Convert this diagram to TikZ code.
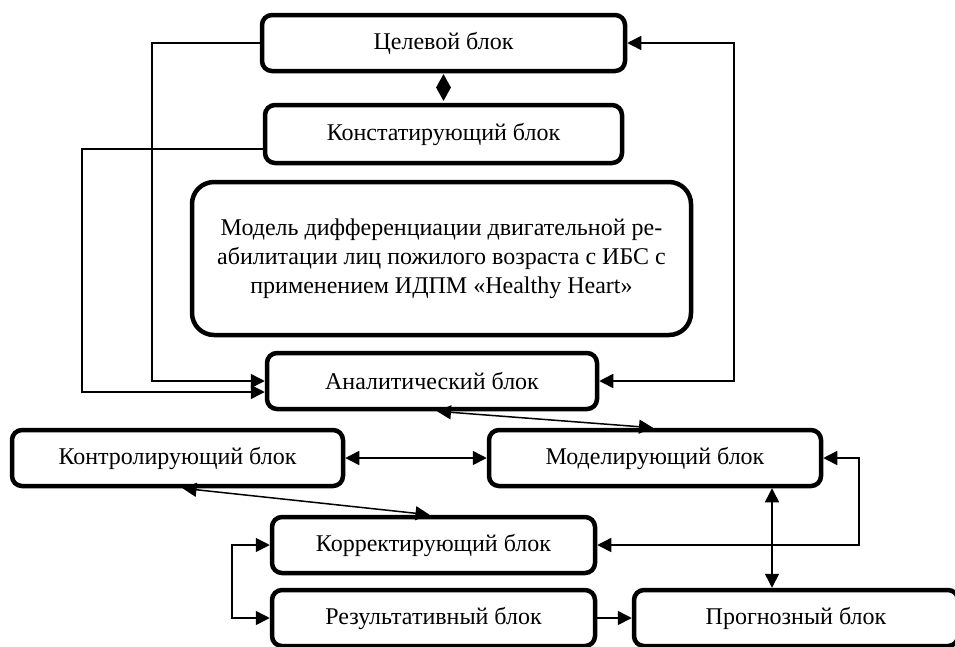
\documentclass[tikz,border=0pt]{standalone}
\usepackage{fontspec}
\setmainfont{Liberation Serif}
\usetikzlibrary{arrows.meta,shapes.geometric,calc}
\begin{document}
\begin{tikzpicture}[x=1pt,y=-1pt,
  blk/.style={draw, line width=4.5pt, rounded corners=10pt, inner sep=0pt,
    font=\fontsize{24}{29}\selectfont, align=center},
  conn/.style={line width=1.5pt},
  >={Triangle[length=14pt,width=14pt]}]
\useasboundingbox (0,0) rectangle (955,646);
\clip (0,0) rectangle (955,646);
\node[blk, minimum width=363, minimum height=56] (cel) at (443.5,43) {Целевой блок};
\node[blk, minimum width=357, minimum height=58] (kon) at (443.5,134) {Констатирующий блок};
\node[blk, rounded corners=22pt, minimum width=499, minimum height=153] (mdl) at (441.5,258.5)
  {Модель дифференциации двигательной ре-\\абилитации лиц пожилого возраста с ИБС с\\применением ИДПМ «Healthy Heart»};
\node[blk, minimum width=330, minimum height=56] (anl) at (432,381) {Аналитический блок};
\node[blk, minimum width=331, minimum height=56] (ktr) at (177.5,458) {Контролирующий блок};
\node[blk, minimum width=332, minimum height=56] (mod) at (655,458) {Моделирующий блок};
\node[blk, minimum width=323, minimum height=56] (kor) at (433.5,545) {Корректирующий блок};
\node[blk, minimum width=323, minimum height=56] (res) at (433.5,618) {Результативный блок};
\node[blk, minimum width=324, minimum height=56] (prg) at (796,618) {Прогнозный блок};
\node[diamond, fill, inner sep=0pt, minimum width=15, minimum height=27] (dia) at (443.5,87.5) {};

\coordinate (xl1) at (152,0);
\coordinate (xl2) at (82,0);
\coordinate (xr) at (734,0);
\coordinate (xb) at (232,0);
\coordinate (xr2) at (859,0);
\coordinate (xm) at (772,0);
\coordinate (k1) at ([yshift=-15pt]kon.west);
\coordinate (a1) at ([yshift=-11pt]anl.west);

\draw[conn,->] (cel.west) -- (cel.west -| xl1) -- (anl.west -| xl1) -- (anl.west);
\draw[conn,->] (k1) -- (k1 -| xl2) -- (a1 -| xl2) -- (a1);
\draw[conn,<->] (cel.east) -- (cel.east -| xr) -- (anl.east -| xr) -- (anl.east);
\draw[conn,<->] ([xshift=5pt]anl.south) -- ([xshift=-2pt]mod.north);
\draw[conn,<->] (ktr.east) -- (mod.west);
\draw[conn,<->] ([xshift=5pt]ktr.south) -- ([xshift=-4pt]kor.north);
\draw[conn,<->] (kor.west) -- (kor.west -| xb) -- (res.west -| xb) -- (res.west);
\draw[conn,->] (res.east) -- (prg.west);
\draw[conn,<->] (mod.south -| xm) -- (prg.north -| xm);
\draw[conn,<->] (mod.east) -- (mod.east -| xr2) -- (kor.east -| xr2) -- (kor.east);
\end{tikzpicture}
\end{document}
